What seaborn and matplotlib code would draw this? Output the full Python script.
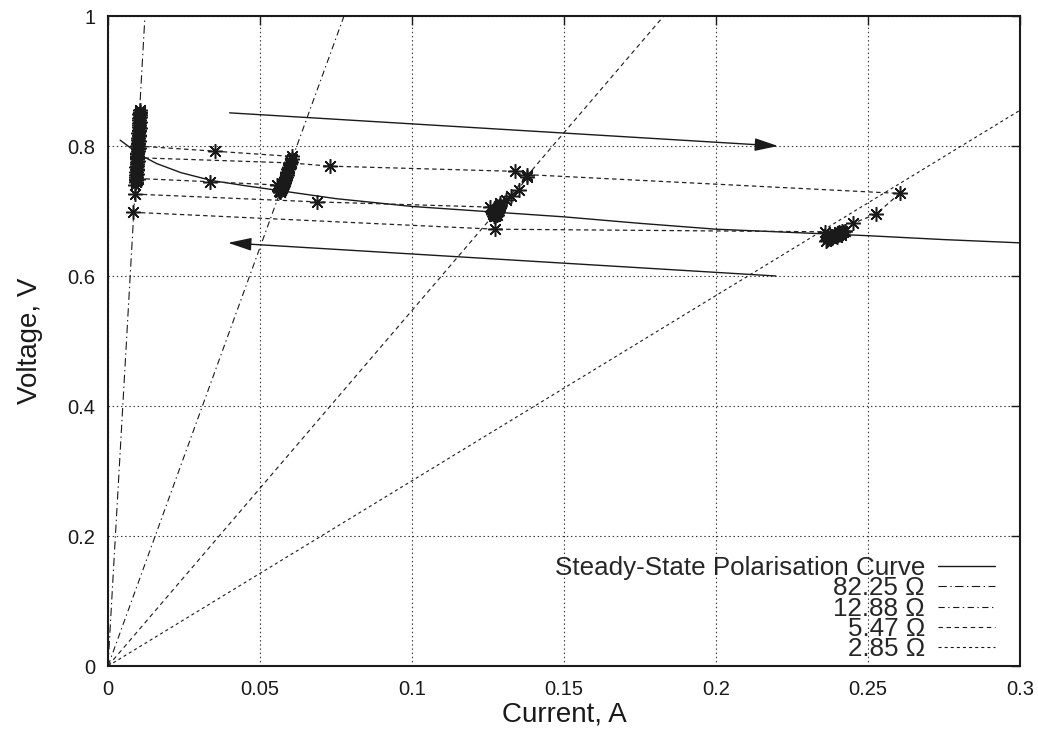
import matplotlib
matplotlib.use("Agg")
import matplotlib.pyplot as plt
import numpy as np
import pandas as pd
import seaborn as sns

# ---------------- data ----------------
# Steady-state polarisation curve
ss_current = [0.004, 0.008, 0.0115, 0.016, 0.024, 0.034, 0.045, 0.057, 0.075, 0.100,
              0.125, 0.150, 0.175, 0.200, 0.225, 0.250, 0.275, 0.300]
ss_voltage = [0.809, 0.795, 0.784, 0.773, 0.759, 0.747, 0.739, 0.731, 0.719, 0.707,
              0.699, 0.691, 0.681, 0.672, 0.667, 0.662, 0.656, 0.651]

# Load lines (resistances, ohm)
load_resistances = [82.25, 12.88, 5.47, 2.85]
load_labels = ["82.25 Ω", "12.88 Ω", "5.47 Ω", "2.85 Ω"]
load_v_top = 1.0

# Transient clusters (settling along each load line)
c82_I = [0.0091, 0.0092, 0.0093, 0.0092, 0.0094, 0.0095, 0.0094, 0.0096, 0.0097, 0.0096,
         0.0098, 0.0099, 0.0098, 0.0100, 0.0101, 0.0100, 0.0102, 0.0101, 0.0103, 0.0102,
         0.0104, 0.0103, 0.0104, 0.0105, 0.0090,
         0.0093, 0.0091, 0.0094, 0.0096, 0.0093, 0.0095, 0.0098, 0.0097, 0.0096, 0.0099,
         0.0101, 0.0099, 0.0102, 0.0100, 0.0103, 0.0101, 0.0104, 0.0102, 0.0105, 0.0103,
         0.0106, 0.0104]
c82_V = [0.745, 0.750, 0.755, 0.760, 0.765, 0.770, 0.775, 0.780, 0.785, 0.790,
         0.795, 0.800, 0.805, 0.810, 0.815, 0.820, 0.825, 0.830, 0.835, 0.840,
         0.845, 0.850, 0.853, 0.855, 0.740,
         0.7475, 0.7525, 0.7575, 0.7625, 0.7675, 0.7725, 0.7775, 0.7825, 0.7875, 0.7925,
         0.7975, 0.8025, 0.8075, 0.8125, 0.8175, 0.8225, 0.8275, 0.8325, 0.8375, 0.8425,
         0.8475, 0.8515]

c13_I = [0.0604, 0.0601, 0.0598, 0.0596, 0.0593, 0.0590, 0.0588, 0.0585, 0.0582, 0.0580,
         0.0577, 0.0575, 0.0572, 0.0570, 0.0568, 0.0566, 0.0565, 0.0567, 0.0569, 0.0563,
         0.0599, 0.0594, 0.0589, 0.0583, 0.0578, 0.0573, 0.0571, 0.0566]
c13_V = [0.780, 0.776, 0.772, 0.768, 0.764, 0.760, 0.756, 0.752, 0.748, 0.745,
         0.742, 0.739, 0.736, 0.734, 0.732, 0.730, 0.729, 0.731, 0.733, 0.731,
         0.774, 0.766, 0.758, 0.750, 0.743, 0.737, 0.735, 0.733]

c5_I = [0.1289, 0.1286, 0.1283, 0.1280, 0.1278, 0.1276, 0.1274, 0.1272, 0.1270, 0.1273,
        0.1276, 0.1280, 0.1284, 0.1268, 0.1282, 0.1265, 0.1279, 0.1287, 0.1271]
c5_V = [0.710, 0.707, 0.704, 0.701, 0.699, 0.697, 0.695, 0.693, 0.692, 0.694,
        0.696, 0.698, 0.700, 0.695, 0.703, 0.697, 0.694, 0.705, 0.699]

c2_I = [0.2424, 0.2418, 0.2412, 0.2406, 0.2400, 0.2394, 0.2388, 0.2382, 0.2376, 0.2370,
        0.2365, 0.2362, 0.2368, 0.2380, 0.2392, 0.2404, 0.2416, 0.2374, 0.2398, 0.2410]
c2_V = [0.669, 0.668, 0.666, 0.665, 0.663, 0.662, 0.661, 0.659, 0.658, 0.657,
        0.655, 0.654, 0.658, 0.662, 0.664, 0.667, 0.670, 0.661, 0.660, 0.663]

# Transient jumps between loads
tA_I = [0.0097, 0.0352, 0.0604]
tA_V = [0.800, 0.792, 0.784]
tB_I = [0.0095, 0.0600, 0.0730, 0.1339, 0.1377, 0.1351, 0.1325, 0.1309, 0.1289]
tB_V = [0.782, 0.774, 0.769, 0.761, 0.752, 0.733, 0.723, 0.717, 0.712]
tC_I = [0.0098, 0.0336, 0.0556]
tC_V = [0.750, 0.745, 0.740]
tD_I = [0.0089, 0.0688, 0.1258]
tD_V = [0.726, 0.714, 0.706]
tE_I = [0.0083, 0.1273, 0.2360]
tE_V = [0.698, 0.672, 0.668]
tF_I = [0.1377, 0.2604, 0.2526, 0.2450, 0.2424]
tF_V = [0.756, 0.727, 0.695, 0.681, 0.669]

# Arrows (start -> end)
arrow_top_start = (0.040, 0.851)
arrow_top_end = (0.2204, 0.800)
arrow_bot_start = (0.2197, 0.600)
arrow_bot_end = (0.0395, 0.651)

x_ticks = [0, 0.05, 0.1, 0.15, 0.2, 0.25, 0.3]
x_tick_labels = ["0", "0.05", "0.1", "0.15", "0.2", "0.25", "0.3"]
y_ticks = [0, 0.2, 0.4, 0.6, 0.8, 1.0]
y_tick_labels = ["0", "0.2", "0.4", "0.6", "0.8", "1"]

# ---------------- style ----------------
sns.set_theme(style="white")
plt.rcParams["font.family"] = ["Liberation Sans", "DejaVu Sans"]
plt.rcParams["lines.scale_dashes"] = False

fig = plt.figure(figsize=(10.38, 7.33), dpi=100)
ax = fig.add_axes([108 / 1038, 1 - 666 / 733, 912 / 1038, 650 / 733])

# transient data
runs = [("c82", c82_I, c82_V), ("c13", c13_I, c13_V), ("c5", c5_I, c5_V),
        ("c2", c2_I, c2_V), ("tA", tA_I, tA_V), ("tB", tB_I, tB_V),
        ("tC", tC_I, tC_V), ("tD", tD_I, tD_V), ("tE", tE_I, tE_V),
        ("tF", tF_I, tF_V)]
frames = [pd.DataFrame({"I": xi, "V": vi, "run": name}) for name, xi, vi in runs]
df_tr = pd.concat(frames, ignore_index=True)

handles = []
sns.lineplot(x=ss_current, y=ss_voltage, ax=ax, color="k", lw=1.0,
             estimator=None, sort=False, label="Steady-State Polarisation Curve")
handles.append(ax.lines[-1])

load_styles = [(0, (6, 2.5, 1, 2.5)), (0, (4.5, 2.5, 1, 2.5)), (0, (3.2, 2.6)), (0, (2.2, 2.2))]
for R, lab, st in zip(load_resistances, load_labels, load_styles):
    sns.lineplot(x=[0, load_v_top / R], y=[0, load_v_top], ax=ax, color="k", lw=0.8,
                 ls=st, estimator=None, sort=False, label=lab)
    handles.append(ax.lines[-1])

sns.lineplot(data=df_tr, x="I", y="V", units="run", estimator=None, sort=False,
             color="#222222", lw=0.9, ls=(0, (3.2, 2.4)), marker=(8, 2, 0), markersize=10.5,
             mec="k", mew=1.1, legend=False, ax=ax)

for s, e in [(arrow_top_start, arrow_top_end), (arrow_bot_start, arrow_bot_end)]:
    ax.annotate("", xy=e, xytext=s,
                arrowprops=dict(arrowstyle="-|>,head_length=0.4,head_width=0.11",
                                mutation_scale=36, color="k", lw=1.0,
                                shrinkA=0, shrinkB=0))

ax.set_xlim(0, 0.3)
ax.set_ylim(0, 1)
ax.set_xticks(x_ticks)
ax.set_xticklabels(x_tick_labels)
ax.set_yticks(y_ticks)
ax.set_yticklabels(y_tick_labels)
ax.tick_params(axis="both", direction="in", length=6.5, width=1.0, colors="k",
               labelsize=14.5, top=True, right=True)
ax.tick_params(axis="x", pad=10)
ax.tick_params(axis="y", pad=9)
ax.grid(True, color="#333333", lw=0.8, ls=(0, (1, 2)))
ax.set_axisbelow(True)
for sp in ax.spines.values():
    sp.set_color("k")
    sp.set_linewidth(1.5)

ax.set_xlabel("Current, A", fontsize=20, color="k")
ax.set_ylabel("Voltage, V", fontsize=20, color="k")
ax.xaxis.set_label_coords(0.5, -0.055)
ax.yaxis.set_label_coords(-0.071, 0.5)

leg = ax.legend(handles=handles,
                labels=["Steady-State Polarisation Curve"] + load_labels,
                loc="lower right", bbox_to_anchor=((995 - 108) / 912, 0.007),
                frameon=False, fontsize=18.7, markerfirst=False,
                handlelength=2.2, handletextpad=0.5, labelspacing=-0.14,
                borderpad=0, borderaxespad=0)

fig.savefig("out.png", dpi=100)
